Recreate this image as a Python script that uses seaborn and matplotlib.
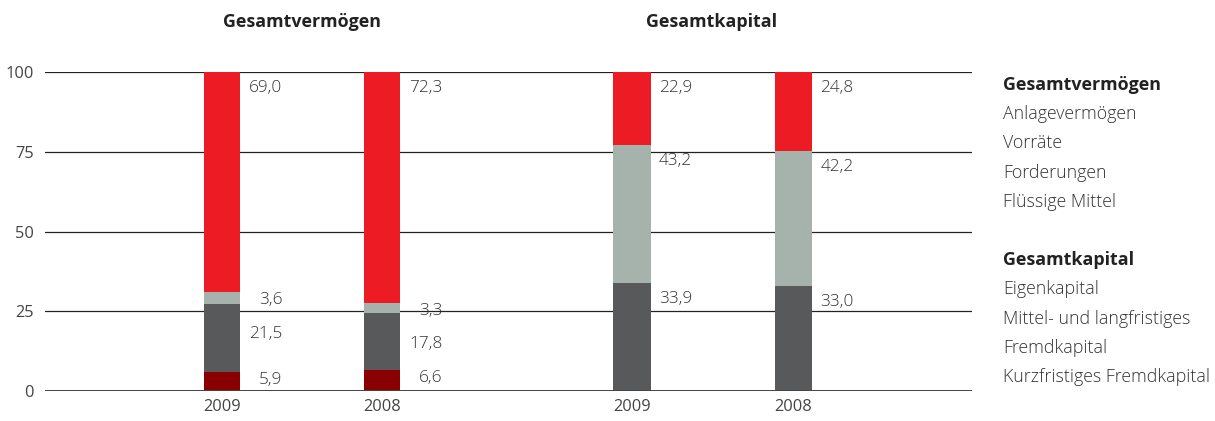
import matplotlib
matplotlib.use('Agg')
import matplotlib.pyplot as plt
import pandas as pd
import seaborn as sns

# Werte in Prozent, jeweils 2009 / 2008
years = ['2009', '2008']
anlagevermoegen = [69.0, 72.3]
vorraete = [3.6, 3.3]
forderungen = [21.5, 17.8]
fluessige_mittel = [5.9, 6.6]
eigenkapital = [22.9, 24.8]
langfristiges_fk = [43.2, 42.2]
kurzfristiges_fk = [33.9, 33.0]

legend_gv = ['Anlagevermögen', 'Vorräte', 'Forderungen', 'Flüssige Mittel']
legend_gk = ['Eigenkapital', 'Mittel- und langfristiges', 'Fremdkapital',
             'Kurzfristiges Fremdkapital']

RED = '#ED1C24'
LIGHT = '#A5B3AC'
DARK = '#58595B'
DARKRED = '#8A0000'
TXT = '#333333'

sns.set_theme(style='white')
plt.rcParams['font.family'] = ['Open Sans', 'DejaVu Sans']

W, H = 1215, 421
fig = plt.figure(figsize=(W / 100, H / 100), dpi=100)
ax = fig.add_axes([45 / W, 1 - 391 / H, (972 - 45) / W, (391 - 72) / H])

# stacks from bottom to top: (values, colour)
groups = [
    ([0.0, 1.0], [(fluessige_mittel, DARKRED), (forderungen, DARK),
                  (vorraete, LIGHT), (anlagevermoegen, RED)]),
    ([2.5625, 3.57], [(kurzfristiges_fk, DARK), (langfristiges_fk, LIGHT),
                      (eigenkapital, RED)]),
]

for pos, layers in groups:
    tops = []
    running = [0.0, 0.0]
    for vals, col in layers:
        running = [r + v for r, v in zip(running, vals)]
        tops.append((list(running), col))
    # draw the tallest cumulative layer first, smaller ones on top of it
    for top, col in reversed(tops):
        df = pd.DataFrame({'pos': pos, 'top': top})
        sns.barplot(data=df, x='pos', y='top', native_scale=True, width=0.23,
                    color=col, saturation=1, errorbar=None, linewidth=0, ax=ax)
    # value labels, right-aligned to the right of each bar
    for i, p in enumerate(pos):
        prev = None
        for (vals, col), (top, _) in zip(reversed(layers), reversed(tops)):
            off = 5.0 if vals[i] >= 10 else 2.5
            y = top[i] - off
            if prev is not None:
                y = min(y, prev - 10.5)
            prev = y
            ax.text(p + 0.3775, y, f'{vals[i]:.1f}'.replace('.', ','),
                    ha='right', va='center', fontsize=12.4, color=TXT,
                    fontweight='light')

for g in [25, 50, 75, 100]:
    ax.axhline(g, color='#222222', lw=0.9, zorder=0)
ax.axhline(0, color='#444444', lw=1.4, zorder=3)

ax.set_xlim(-1.106, 4.6875)
ax.set_ylim(0, 100)
ax.set_xticks([0.0, 1.0, 2.5625, 3.57], years + years)
ax.set_yticks([0, 25, 50, 75, 100])
ax.tick_params(axis='both', length=0, labelsize=11.8, labelcolor='#444444')
ax.tick_params(axis='x', pad=6)
ax.tick_params(axis='y', pad=8)
ax.set_xlabel('')
ax.set_ylabel('')
for s in ax.spines.values():
    s.set_visible(False)

fig.text(302 / W, 1 - 22 / H, 'Gesamtvermögen', ha='center', va='center',
         fontsize=12.9, fontweight='bold', color='#222222')
fig.text(712 / W, 1 - 22 / H, 'Gesamtkapital', ha='center', va='center',
         fontsize=12.9, fontweight='bold', color='#222222')

lx = 1003 / W
rows = [('Gesamtvermögen', True)] + [(t, False) for t in legend_gv] + [('', False)] \
    + [('Gesamtkapital', True)] + [(t, False) for t in legend_gk]
for k, (t, bold) in enumerate(rows):
    y = 85 + k * 29.2
    fig.text(lx, 1 - y / H, t, ha='left', va='center',
             fontsize=12.9 if bold else 12.75,
             fontweight='bold' if bold else 'light',
             color='#222222' if bold else TXT)

fig.savefig('out.png', dpi=100)
